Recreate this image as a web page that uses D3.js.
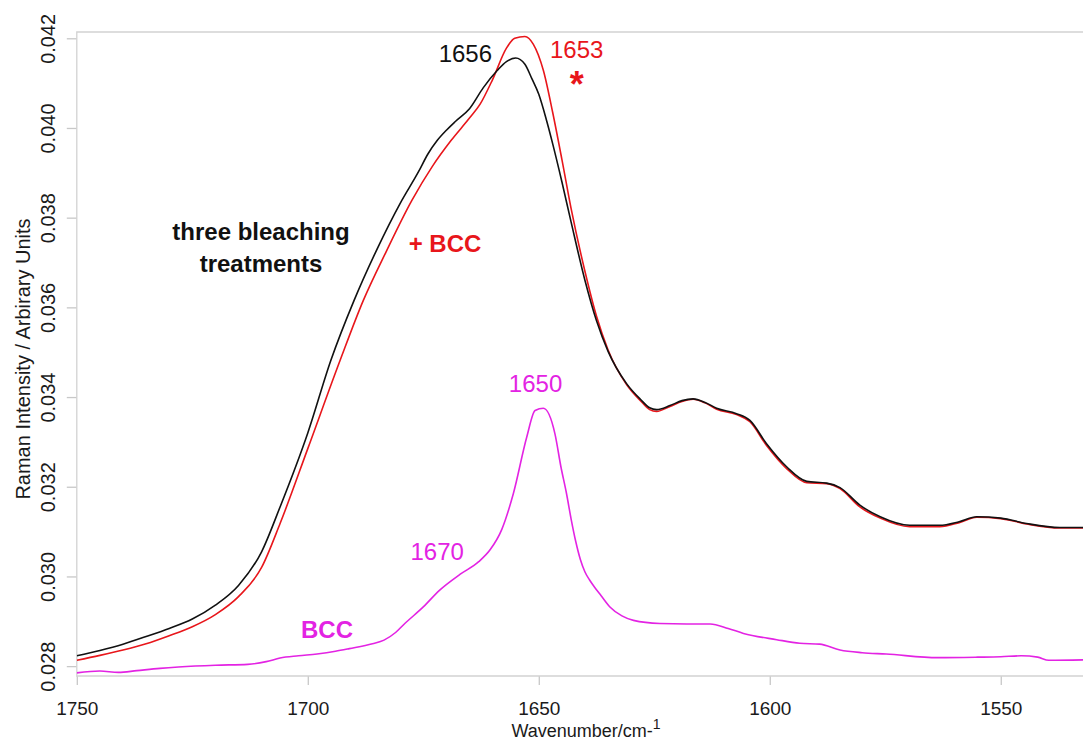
<!DOCTYPE html>
<html>
<head>
<meta charset="utf-8">
<script src="https://cdn.jsdelivr.net/npm/d3@7"></script>
<style>
    body { margin: 0; background: #fff; }
    svg { display: block; font-family: "Liberation Sans", Arial, sans-serif; }
    .frame { stroke: #d2d2d2; stroke-width: 1.3; fill: none; }
    .tick line { stroke: #c8c8c8; stroke-width: 1.3; }
    .tick text { fill: #1a1a1a; }
    .spectrum { fill: none; stroke-width: 1.6; stroke-linejoin: round; }
</style>
</head>
<body>
<svg id="vis_svg" width="1083" height="740"></svg>
<script>
// x ticks / y ticks
let xTicks = [1750, 1700, 1650, 1600, 1550];
let yTicks = [0.028, 0.030, 0.032, 0.034, 0.036, 0.038, 0.040, 0.042];

// three bleaching treatments (black)
let blackWn = [1750, 1745, 1740, 1735, 1730, 1725, 1720, 1715, 1710, 1706, 1700, 1695, 1690, 1685, 1680,
    1676, 1674, 1672, 1670, 1668, 1665, 1662, 1659, 1657, 1655, 1653, 1651.5, 1650, 1648.3, 1647, 1645, 1643,
    1640, 1637.5, 1635, 1631, 1628, 1626, 1624.5, 1621.6, 1619, 1616.6, 1614, 1611.5, 1607.2, 1604.3, 1600.7,
    1596.3, 1592, 1587.7, 1584.8, 1580.5, 1576.1, 1569.7, 1563.2, 1559, 1555.2, 1550, 1544.4, 1537.2, 1532];
let blackInt = [0.02823, 0.02835, 0.02849, 0.02866, 0.02884, 0.02905, 0.02936, 0.0298, 0.03055, 0.03155,
    0.0332, 0.03482, 0.03615, 0.0373, 0.03832, 0.03903, 0.03942, 0.03972, 0.03995, 0.04015, 0.04043, 0.0409,
    0.04128, 0.04148, 0.04156, 0.04142, 0.0411, 0.04075, 0.04016, 0.03965, 0.0388, 0.0379, 0.0366, 0.0357,
    0.03502, 0.0343, 0.03395, 0.03376, 0.03372, 0.03381, 0.03392, 0.03396, 0.03388, 0.03375, 0.03363,
    0.03348, 0.03296, 0.03244, 0.03212, 0.03208, 0.03198, 0.03159, 0.03133, 0.03114, 0.03114, 0.03122,
    0.03133, 0.0313, 0.03118, 0.03109, 0.03109];

// + BCC (red)
let redWn = [1750, 1745, 1740, 1735, 1730, 1725, 1720, 1715, 1710, 1706, 1700, 1693, 1688, 1683, 1677.5,
    1673, 1669, 1665, 1662.7, 1660, 1657, 1655.2, 1653, 1651.2, 1649, 1647, 1645, 1643, 1640, 1637.5, 1635,
    1631, 1628, 1626, 1624.5, 1621.6, 1619, 1616.6, 1614, 1611.5, 1607.2, 1604.3, 1600.7, 1596.3, 1592,
    1587.7, 1584.8, 1580.5, 1576.1, 1569.7, 1563.2, 1559, 1555.2, 1550, 1544.4, 1537.2, 1532];
let redInt = [0.02813, 0.02824, 0.02836, 0.0285, 0.02868, 0.02888, 0.02915, 0.02955, 0.0302, 0.03118,
    0.03285, 0.03482, 0.03615, 0.03725, 0.03838, 0.03915, 0.03972, 0.04022, 0.04053, 0.04108, 0.04178,
    0.042, 0.04204, 0.04187, 0.04128, 0.04035, 0.0393, 0.0382, 0.0368, 0.0358, 0.03505, 0.03428, 0.03392,
    0.03372, 0.03368, 0.03379, 0.0339, 0.03395, 0.03387, 0.03373, 0.03361, 0.03345, 0.03292, 0.0324,
    0.03209, 0.03207, 0.03196, 0.03155, 0.0313, 0.03111, 0.03111, 0.0312, 0.03132, 0.03129, 0.03117,
    0.03108, 0.03108];

// BCC (magenta)
let bccWn = [1750, 1745, 1741, 1737, 1732, 1728, 1720, 1713, 1709, 1706, 1702, 1698, 1694, 1691, 1686,
    1683.5, 1681, 1679, 1675, 1671.5, 1667, 1663, 1660.5, 1658, 1655.5, 1652.6, 1650.8, 1649, 1646.5,
    1645.2, 1644, 1643, 1642, 1641, 1640, 1639, 1638, 1636.5, 1634.6, 1632, 1629.5, 1623.8, 1618, 1612.9,
    1609, 1605.7, 1598.5, 1593.5, 1589.2, 1584.8, 1580, 1574.8, 1563.6, 1555, 1550, 1545.6, 1542, 1539.6,
    1532];
let bccInt = [0.02785, 0.02789, 0.02786, 0.0279, 0.02795, 0.02798, 0.02802, 0.02804, 0.0281, 0.02818,
    0.02823, 0.02827, 0.02833, 0.02839, 0.0285, 0.02858, 0.02875, 0.02895, 0.02932, 0.02969, 0.03005,
    0.03033, 0.0306, 0.03105, 0.03185, 0.03311, 0.0337, 0.03375, 0.03318, 0.03244, 0.03185, 0.03128, 0.03078,
    0.03038, 0.0301, 0.02992, 0.02977, 0.02957, 0.02932, 0.02912, 0.02902, 0.02895, 0.02894, 0.02894,
    0.02884, 0.02873, 0.02859, 0.02851, 0.02849, 0.02836, 0.0283, 0.02827, 0.02819, 0.0282, 0.02821,
    0.02823, 0.0282, 0.02813, 0.02814];

// peak labels
let labelText = ['1656', '1653', '1650', '1670'];
let labelWn = [1665.9, 1641.8, 1650.7, 1672.0];
let labelInt = [0.04148, 0.04155, 0.03412, 0.03037];
let labelColor = ['#111111', '#e8161b', '#e323e3', '#e323e3'];

let svg;
let x;
let y;
let box = {left: 76.8, top: 32, right: 1083, bottom: 676};

/**
 * Set up scales, then draw everything
 */
function prepVis() {
    svg = d3.select('svg#vis_svg');

    x = d3.scaleLinear().domain([1750, 1532.2]).range([box.left, box.right]);
    y = d3.scaleLinear().domain([0.02778, 0.04214]).range([box.bottom, box.top]);

    drawAxes();
    drawVis();
}

/**
 * Frame, ticks and axis titles
 */
function drawAxes() {
    let xAxis = d3.axisBottom(x).tickValues(xTicks).tickSize(9).tickSizeOuter(0)
        .tickFormat(d3.format('d'));
    let gx = svg.append('g')
        .attr('transform', translate(0, box.bottom))
        .call(xAxis);
    gx.select('.domain').remove();
    gx.selectAll('.tick text')
        .attr('y', 39)
        .attr('dy', 0)
        .style('font-size', '19px');

    let yAxis = d3.axisLeft(y).tickValues(yTicks).tickSize(10).tickSizeOuter(0)
        .tickFormat(d3.format('.3f'));
    let gy = svg.append('g')
        .attr('transform', translate(box.left, 0))
        .call(yAxis);
    gy.select('.domain').remove();
    gy.selectAll('.tick text')
        .attr('x', 0)
        .attr('dy', 0)
        .attr('text-anchor', 'middle')
        .attr('transform', 'translate(-21.5,0) rotate(-90)')
        .style('font-size', '20px');

    // the light frame (left, top, bottom)
    svg.append('path')
        .attr('class', 'frame')
        .attr('d', `M${box.right},${box.top}H${box.left}V${box.bottom}H${box.right}`);

    // axis titles
    let xt = svg.append('text')
        .attr('x', 586)
        .attr('y', 737)
        .attr('text-anchor', 'middle')
        .style('font-size', '18px')
        .style('fill', '#1a1a1a')
        .text('Wavenumber/cm-');
    xt.append('tspan')
        .attr('dy', -8)
        .style('font-size', '14px')
        .text('1');

    svg.append('text')
        .attr('transform', translate(30, 359) + ' rotate(-90)')
        .attr('text-anchor', 'middle')
        .style('font-size', '20px')
        .style('fill', '#1a1a1a')
        .text('Raman Intensity / Arbirary Units');
}

/**
 * Draw the three spectra and their labels
 */
function drawVis() {
    svg.append('clipPath')
        .attr('id', 'plotclip')
        .append('rect')
        .attr('x', box.left)
        .attr('y', box.top - 4)
        .attr('width', box.right - box.left)
        .attr('height', box.bottom - box.top + 4);

    let line = d3.line()
        .curve(d3.curveMonotoneX)
        .x(d => x(d[0]))
        .y(d => y(d[1]));

    let plot = svg.append('g').attr('clip-path', 'url(#plotclip)');

    let series = [
        {wn: bccWn, val: bccInt, color: '#e323e3'},
        {wn: redWn, val: redInt, color: '#e8161b'},
        {wn: blackWn, val: blackInt, color: '#111111'}
    ];

    plot.selectAll('path.spectrum')
        .data(series)
        .enter()
        .append('path')
        .attr('class', 'spectrum')
        .attr('stroke', d => d.color)
        .attr('d', d => line(d3.zip(d.wn, d.val)));

    // peak position labels
    svg.selectAll('text.peak')
        .data(labelText)
        .enter()
        .append('text')
        .attr('class', 'peak')
        .attr('x', (d, i) => x(labelWn[i]))
        .attr('y', (d, i) => y(labelInt[i]))
        .attr('text-anchor', 'middle')
        .style('font-size', '24px')
        .style('fill', (d, i) => labelColor[i])
        .text(d => d);

    // asterisk under 1653
    svg.append('text')
        .attr('x', x(1641.8))
        .attr('y', 97)
        .attr('text-anchor', 'middle')
        .style('font-size', '36px')
        .style('font-weight', 'bold')
        .style('fill', '#e8161b')
        .text('*');

    // series names
    let bold = svg.append('g').style('font-weight', 'bold').style('font-size', '24px');
    bold.append('text')
        .attr('x', 261).attr('y', 240)
        .attr('text-anchor', 'middle')
        .style('fill', '#111')
        .text('three bleaching');
    bold.append('text')
        .attr('x', 261).attr('y', 272)
        .attr('text-anchor', 'middle')
        .style('fill', '#111')
        .text('treatments');
    bold.append('text')
        .attr('x', 445).attr('y', 252)
        .attr('text-anchor', 'middle')
        .style('fill', '#e8161b')
        .text('+ BCC');
    bold.append('text')
        .attr('x', 327).attr('y', 638)
        .attr('text-anchor', 'middle')
        .style('fill', '#e323e3')
        .text('BCC');
}

/**
 * translate helper
 */
function translate(x, y) {
    return 'translate(' + String(x) + ',' + String(y) + ')';
}

prepVis();
</script>
</body>
</html>
